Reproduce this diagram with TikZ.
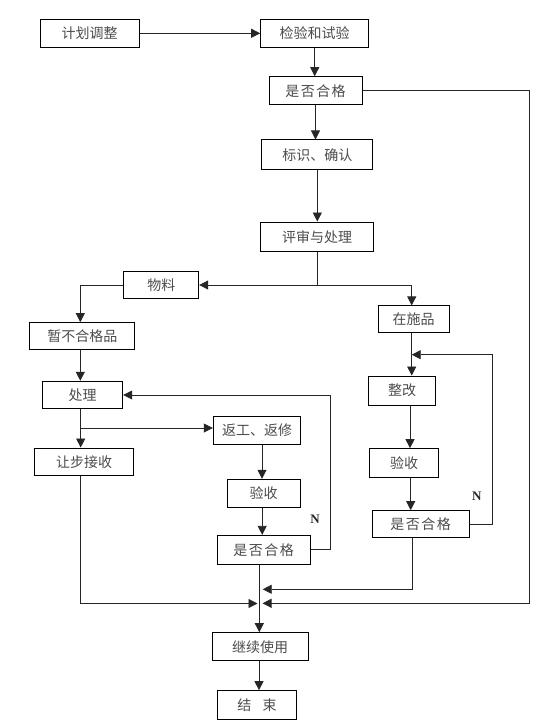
\documentclass[tikz,border=0pt]{standalone}
\usepackage{fontspec}
\newfontfamily\cjk{Noto Sans CJK SC}
\setmainfont{Liberation Serif}
\usetikzlibrary{arrows.meta}
\newcommand{\gp}{\hspace{1.5pt}}
\begin{document}
\begin{tikzpicture}[x=1pt,y=-1pt,
  box/.style={draw=black, line width=1pt, inner sep=0pt, font=\cjk\fontsize{14}{14}\selectfont, text=black!70},
  link/.style={line width=0.8pt, draw=black!85},
  arr/.style={link, -{Triangle[length=9pt,width=9pt]}},
  nlab/.style={font=\bfseries\fontsize{13}{13}\selectfont, text=black!85}
]
\fill[white] (0,0) rectangle (554,727);
\useasboundingbox (0,0) rectangle (554,727);
% boxes
\node[box, minimum width=99pt, minimum height=28pt] (jh) at (89.5,33.3) {计划调整};
\node[box, minimum width=108pt, minimum height=28pt] (jy) at (314.7,33.2) {检验和试验};
\node[box, minimum width=93pt, minimum height=28pt] (hg1) at (315.5,90.7) {是\gp 否\gp 合\gp 格};
\node[box, minimum width=110.7pt, minimum height=30pt] (bs) at (317.3,155) {标识、确认};
\node[box, minimum width=112.6pt, minimum height=29.3pt] (ps) at (317,236.7) {评审与处理};
\node[box, minimum width=74.7pt, minimum height=27.4pt] (wl) at (161.3,285) {物料};
\node[box, minimum width=71.3pt, minimum height=26.7pt] (zs) at (413.7,319.3) {在施品};
\node[box, minimum width=104.7pt, minimum height=27.3pt] (zb) at (82.3,336.3) {暂不合格品};
\node[box, minimum width=80pt, minimum height=27.4pt] (cl) at (82.7,395) {处理};
\node[box, minimum width=66.6pt, minimum height=29.3pt] (zg) at (402,390.7) {整改};
\node[box, minimum width=87.4pt, minimum height=28pt] (fg) at (257,430) {返工、返修};
\node[box, minimum width=98.6pt, minimum height=27.3pt] (rb) at (84,461.7) {让步接收};
\node[box, minimum width=69.4pt, minimum height=29.3pt] (ys2) at (404,463.3) {验收};
\node[box, minimum width=72.7pt, minimum height=28pt] (ys1) at (263.7,493.3) {验收};
\node[box, minimum width=92.7pt, minimum height=28.7pt] (hg2) at (263.7,549.7) {是\gp 否\gp 合\gp 格};
\node[box, minimum width=97.3pt, minimum height=27.3pt] (hg3) at (420.7,524.3) {是\gp 否\gp 合\gp 格};
\node[box, minimum width=96pt, minimum height=28pt] (jx) at (260,646.7) {继续使用};
\node[box, minimum width=79.4pt, minimum height=29.3pt] (js) at (257,705.3) {结\hspace{0.8em}束};
% labels
\node[nlab] (n1) at (315,519) {N};
\node[nlab] (n2) at (476.7,496) {N};
% connectors
\draw[arr] (jh.east) -- (jh.east -| jy.west);
\draw[arr] (jy.south) -- (jy.south |- hg1.north);
\draw[arr] (hg1.south) -- (hg1.south |- bs.north);
\draw[arr] (bs.south) -- (bs.south |- ps.north);
\coordinate (sp) at (ps.south |- wl.east);
\coordinate (zsl) at ([xshift=-2pt]zs.north);
\draw[link] (ps.south) -- (sp);
\draw[arr] (sp) -- (wl.east);
\draw[arr] (sp) -| (zsl);
\draw[arr] (wl.west) -| ([xshift=-2pt]zb.north);
\draw[arr] ([xshift=-2pt]zb.south) -- ([xshift=-2pt]zb.south |- cl.north);
\draw[arr] ([xshift=-2pt]cl.south) -- ([xshift=-2pt]cl.south |- rb.north);
\coordinate (br) at (80.7,428);
\draw[arr] (br) -- (br -| fg.west);
\draw[arr] ([xshift=5pt]fg.south) -- ([xshift=5pt]fg.south |- ys1.north);
\draw[arr] ([xshift=-1.5pt]ys1.south) -- ([xshift=-1.5pt]ys1.south |- hg2.north);
\coordinate (lp1) at (330,395);
\draw[arr] (hg2.east) -| (lp1) -- (cl.east);
% right branch
\coordinate (zsb) at ([xshift=-2pt]zs.south);
\draw[arr] (zsb) -- (zsb |- zg.north);
\draw[arr] ([xshift=8pt]zg.south) -- ([xshift=8pt]zg.south |- ys2.north);
\draw[arr] ([xshift=6.7pt]ys2.south) -- ([xshift=6.7pt]ys2.south |- hg3.north);
\coordinate (lp2) at (492.7,354.7);
\draw[arr] (hg3.east) -| (lp2) -- (lp2 -| zsb);
% merges
\coordinate (j1) at (262.7,589.3);
\draw[arr] ([xshift=-8.4pt]hg3.south) |- (j1);
\coordinate (rc) at (529.5,603.3);
\coordinate (j2) at (262.5,603.3);
\draw[arr] (hg1.east) -| (rc) -- (j2);
\coordinate (j3) at (257.5,603.5);
\draw[arr] ([xshift=-4pt]rb.south) |- (j3);
\draw[arr] ([xshift=-4.4pt]hg2.south) -- ([xshift=-4.4pt]hg2.south |- jx.north);
\draw[arr] ([xshift=-1pt]jx.south) -- ([xshift=-1pt]jx.south |- js.north);
\end{tikzpicture}
\end{document}
